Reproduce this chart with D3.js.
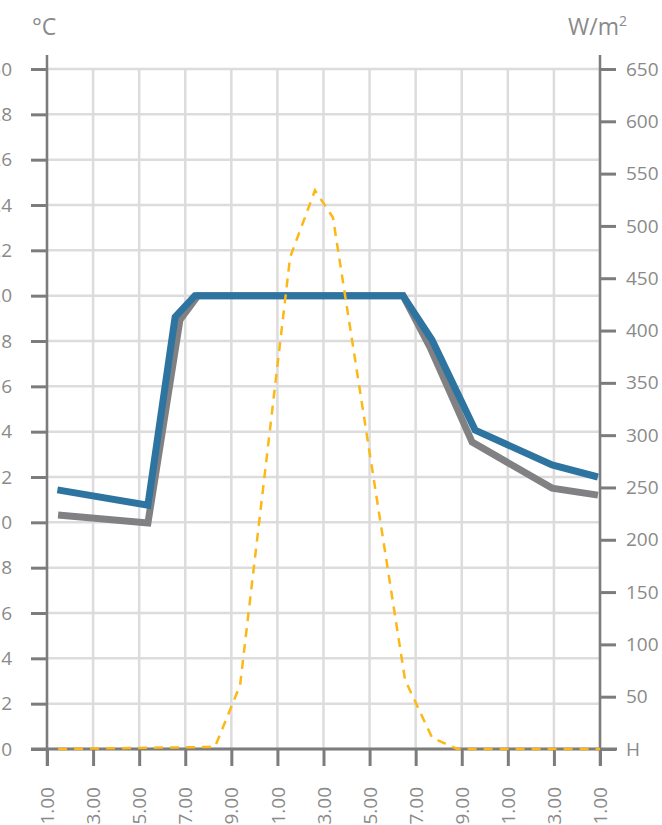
<!DOCTYPE html>
<html>
<head>
<meta charset="utf-8">
<script src="https://cdn.jsdelivr.net/npm/d3@7"></script>
<style>
  html, body { margin: 0; padding: 0; background: #fff; }
  svg { display: block; }
  text { font-family: "Open Sans", "DejaVu Sans", sans-serif; fill: #8a8a8a; }
</style>
</head>
<body>
<svg id="chart" width="662" height="825"></svg>
<script>
// ---- data ----
const xTickValues = [1, 3, 5, 7, 9, 11, 13, 15, 17, 19, 21, 23, 25];
const xTickLabels = ["1.00", "3.00", "5.00", "7.00", "9.00", "11.00", "13.00", "15.00", "17.00", "19.00", "21.00", "23.00", "1.00"];
const leftTicks = [0, 2, 4, 6, 8, 10, 12, 14, 16, 18, 20, 22, 24, 26, 28, 30];
const rightTicks = [0, 50, 100, 150, 200, 250, 300, 350, 400, 450, 500, 550, 600, 650];
const rightTickLabels = ["H", "50", "100", "150", "200", "250", "300", "350", "400", "450", "500", "550", "600", "650"];

// blue series (°C)
const blueHours = [1.45, 5.38, 6.56, 7.42, 16.45, 17.71, 19.58, 22.92, 24.91];
const blueTemp  = [11.43, 10.76, 19.06, 20.0, 20.0, 18.04, 14.07, 12.53, 12.0];
// grey series (°C)
const greyHours = [1.48, 5.38, 6.77, 7.55, 16.45, 17.62, 19.45, 22.92, 24.91];
const greyTemp  = [10.32, 9.97, 18.93, 20.0, 20.0, 17.73, 13.54, 11.51, 11.2];
// yellow dashed series (W/m2)
const solarHours = [1.48, 8.29, 9.38, 11.55, 12.63, 13.41, 16.54, 17.71, 18.8, 25];
const solarValue = [0, 2, 61, 470, 534, 508, 66, 11, 0, 0];

// ---- chart ----
const svg = d3.select("#chart");
const x = d3.scaleLinear().domain([1, 25]).range([47, 600]);
const yL = d3.scaleLinear().domain([0, 30]).range([749, 69]);
const yR = d3.scaleLinear().domain([0, 650]).range([749, 69]);

const gridColor = "#dcdcdc";
const axisColor = "#7c7c7e";
const fontSize = "19px";

// grid
const grid = svg.append("g");
grid.selectAll("line.h").data(leftTicks).join("line")
  .attr("x1", x(1)).attr("x2", x(25))
  .attr("y1", d => yL(d)).attr("y2", d => yL(d))
  .attr("stroke", gridColor).attr("stroke-width", 2.5);
grid.selectAll("line.v").data(xTickValues).join("line")
  .attr("x1", d => x(d)).attr("x2", d => x(d))
  .attr("y1", yL(30)).attr("y2", yL(0))
  .attr("stroke", gridColor).attr("stroke-width", 2.5);

// axes
const leftAxis = d3.axisLeft(yL).tickValues(leftTicks)
  .tickFormat(d => String(d)).tickSize(16).tickPadding(19).tickSizeOuter(0);
const gL = svg.append("g").attr("transform", `translate(${x(1)},0)`).call(leftAxis);

const rightAxis = d3.axisRight(yR).tickValues(rightTicks)
  .tickFormat((d, i) => rightTickLabels[i]).tickSize(16).tickPadding(10).tickSizeOuter(0);
const gR = svg.append("g").attr("transform", `translate(${x(25)},0)`).call(rightAxis);

const bottomAxis = d3.axisBottom(x).tickValues(xTickValues)
  .tickFormat((d, i) => xTickLabels[i]).tickSize(17).tickSizeOuter(0);
const gB = svg.append("g").attr("transform", `translate(0,${yL(0)})`).call(bottomAxis);

[gL, gR, gB].forEach(g => {
  g.select(".domain").remove();
  g.selectAll(".tick line").attr("stroke", axisColor).attr("stroke-width", 3);
  g.selectAll(".tick text").attr("fill", "#8a8a8a").style("font-size", fontSize)
    .style("font-family", "'Open Sans', sans-serif");
});
gB.selectAll(".tick text")
  .attr("transform", "translate(0,38) rotate(-90)")
  .attr("text-anchor", "end").attr("x", 0).attr("y", 0).attr("dy", "0.35em");

// axis lines
svg.append("line").attr("x1", x(1)).attr("x2", x(1)).attr("y1", 55).attr("y2", 766)
  .attr("stroke", axisColor).attr("stroke-width", 2.5);
svg.append("line").attr("x1", x(25)).attr("x2", x(25)).attr("y1", 55).attr("y2", 766)
  .attr("stroke", axisColor).attr("stroke-width", 2.5);
svg.append("line").attr("x1", 31).attr("x2", 617).attr("y1", yL(0)).attr("y2", yL(0))
  .attr("stroke", axisColor).attr("stroke-width", 3);

// titles
svg.append("text").attr("x", 32).attr("y", 35).style("font-size", "23px").text("°C");
const wt = svg.append("text").attr("x", 568).attr("y", 35).style("font-size", "23px");
wt.append("tspan").text("W/m");
wt.append("tspan").attr("dy", -9).style("font-size", "14px").text("2");

// lines
const line = d3.line().x(d => x(d[0])).y(d => d[1]);
const greyPts = greyHours.map((h, i) => [h, yL(greyTemp[i])]);
const bluePts = blueHours.map((h, i) => [h, yL(blueTemp[i])]);
const solarPts = solarHours.map((h, i) => [h, yR(solarValue[i])]);

svg.append("path").attr("d", line(greyPts)).attr("fill", "none")
  .attr("stroke", "#818184").attr("stroke-width", 7).attr("stroke-linejoin", "miter");
svg.append("path").attr("d", line(bluePts)).attr("fill", "none")
  .attr("stroke", "#2e74a1").attr("stroke-width", 7).attr("stroke-linejoin", "miter");
svg.append("path").attr("d", line(solarPts)).attr("fill", "none")
  .attr("stroke", "#fbb817").attr("stroke-width", 2.5).attr("stroke-dasharray", "9,7");
</script>
</body>
</html>
